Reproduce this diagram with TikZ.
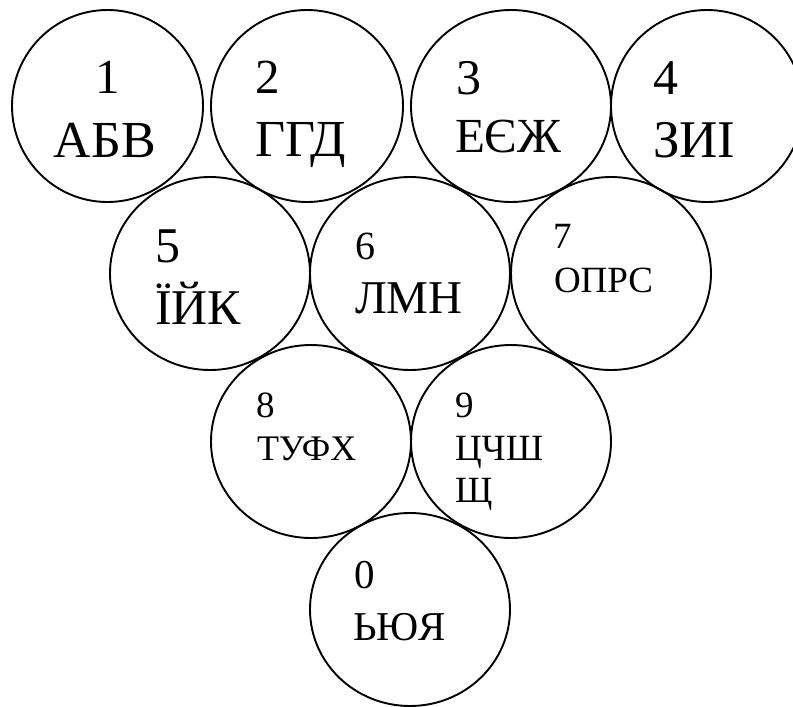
\documentclass[tikz,border=0pt]{standalone}
\usepackage{fontspec}
\IfFontExistsTF{LiberationSerif-Regular.ttf}{\newfontfamily\keyfont{LiberationSerif-Regular.ttf}}{\newfontfamily\keyfont{DejaVu Serif}}
\usetikzlibrary{shapes.geometric}
\begin{document}
\begin{tikzpicture}[x=1pt,y=-1pt,
  key/.style={draw, ellipse, line width=1.9pt, inner sep=0pt, outer sep=0pt},
  lbl/.style={anchor=base west, inner sep=0pt, outer sep=0pt},
  lblc/.style={anchor=base, inner sep=0pt, outer sep=0pt},
  fs/.style={font=\keyfont\fontsize{#1}{#1}\selectfont}]
\useasboundingbox (0,0) rectangle (793,707);
\clip (0,0) rectangle (793,707);
% keys
\node[key, minimum width=191pt, minimum height=192pt] (c1) at (107.5,106) {};
\node[key, minimum width=192pt, minimum height=192pt] (c2) at (307,106) {};
\node[key, minimum width=200pt, minimum height=192pt] (c3) at (511,106) {};
\node[key, minimum width=192pt, minimum height=192pt] (c4) at (707,106) {};
\node[key, minimum width=200pt, minimum height=193pt] (c5) at (210,273.5) {};
\node[key, minimum width=200pt, minimum height=193pt] (c6) at (410,273.5) {};
\node[key, minimum width=200pt, minimum height=193pt] (c7) at (611,273.5) {};
\node[key, minimum width=200pt, minimum height=193pt] (c8) at (311,441.5) {};
\node[key, minimum width=200pt, minimum height=193pt] (c9) at (511,441.5) {};
\node[key, minimum width=200pt, minimum height=193pt] (c0) at (410,609.5) {};
% labels
\node[lblc, fs=49] (t1a) at (107.5,93) {1};
\node[lblc, fs=52] (t1b) at (105,157) {АБВ};
\node[lbl, fs=49] (t2a) at (255,93) {2};
\node[lbl, fs=52] (t2b) at (255,156) {ГГД};
\node[lbl, fs=50] (t3a) at (456,94) {3};
\node[lbl, fs=49] (t3b) at (455,152) {ЕЄЖ};
\node[lbl, fs=50] (t4a) at (653,94) {4};
\node[lbl, fs=53] (t4b) at (653,157) {ЗИІ};
\node[lbl, fs=50] (t5a) at (155,262) {5};
\node[lbl, fs=50] (t5b) at (155,324) {ЇЙК};
\node[lbl, fs=40] (t6a) at (355,259) {6};
\node[lbl, fs=47] (t6b) at (355,313) {ЛМН};
\node[lbl, fs=37] (t7a) at (553,248) {7};
\node[lbl, fs=37] (t7b) at (554,292) {ОПРС};
\node[lbl, fs=37] (t8a) at (256,417) {8};
\node[lbl, fs=36] (t8b) at (257,460) {ТУФХ};
\node[lbl, fs=37] (t9a) at (455,417) {9};
\node[lbl, fs=37] (t9b) at (455,460) {ЦЧШ};
\node[lbl, fs=37] (t9c) at (455,502) {Щ};
\node[lbl, fs=41] (t0a) at (354,588) {0};
\node[lbl, fs=41] (t0b) at (353,640) {ЬЮЯ};
\end{tikzpicture}
\end{document}
